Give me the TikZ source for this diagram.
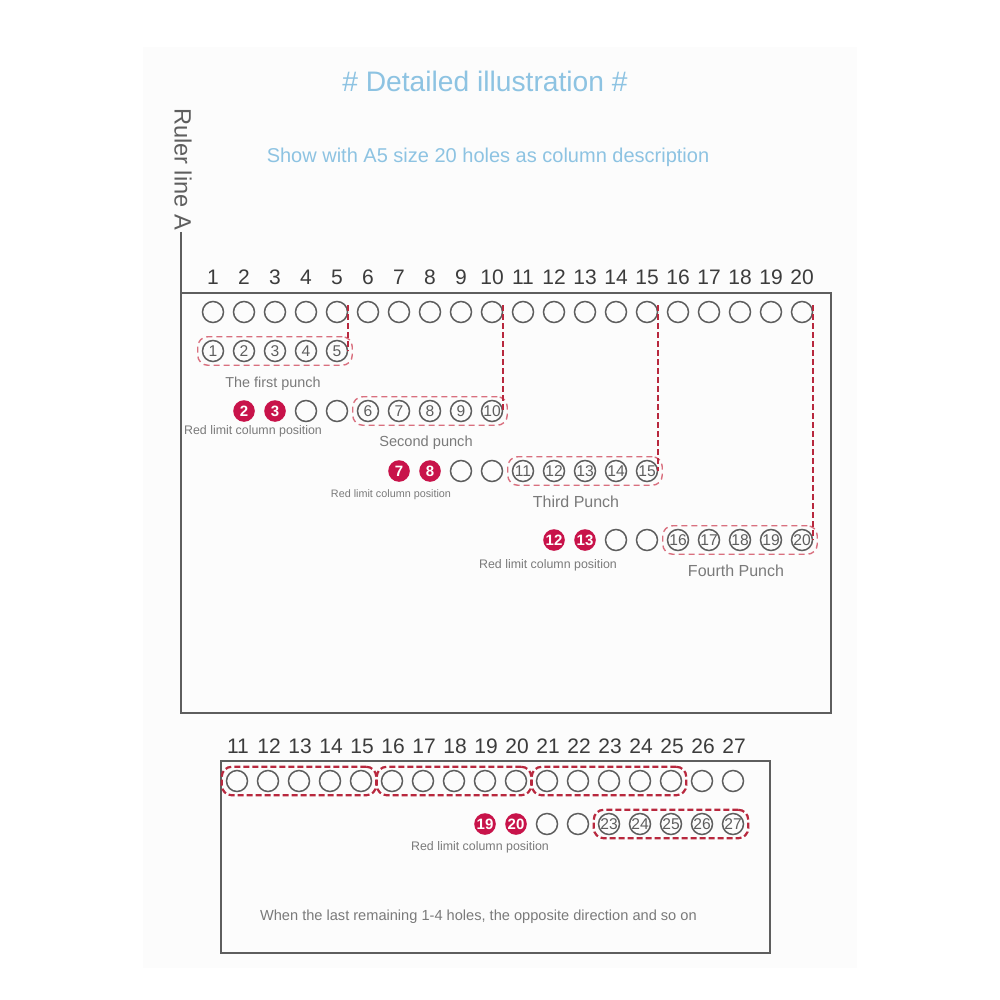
\documentclass[tikz,border=0pt]{standalone}
\usepackage{fontspec}
\setmainfont{Liberation Sans}
\usetikzlibrary{positioning,fit,calc}
\definecolor{sky}{HTML}{8DC3E2}
\definecolor{ink}{HTML}{3C3C3C}
\definecolor{rimc}{HTML}{5E5E5E}
\definecolor{note}{HTML}{7A7A7A}
\definecolor{crim}{HTML}{C8134A}
\definecolor{pinkc}{HTML}{D9707F}
\definecolor{dashc}{HTML}{B8283E}
\definecolor{paper}{HTML}{FCFCFC}
\newcommand{\fsz}[1]{\fontsize{#1}{#1}\selectfont}

\begin{document}
\begin{tikzpicture}[x=0.5pt,y=-0.5pt,
  hole/.style={circle,draw=rimc,line width=0.75pt,minimum size=10.5pt,inner sep=0pt},
  numhole/.style={hole,text=rimc,font=\fsz{7.8}},
  redhole/.style={circle,fill=crim,text=white,minimum size=10.8pt,inner sep=0pt,font=\bfseries\fsz{7.5}},
  num/.style={text=ink,font=\fsz{10.5}},
  grp/.style={draw=pinkc,densely dashed,line width=0.7pt,rounded corners=5pt,inner xsep=2pt,inner ysep=1.5pt},
  grpb/.style={draw=dashc,dash pattern=on 3pt off 1.5pt,line width=1.1pt,rounded corners=5pt,inner xsep=2pt,inner ysep=1.5pt},
  lnk/.style={draw=dashc,dash pattern=on 3pt off 1.5pt,line width=1pt},
  rimline/.style={draw=rimc,line width=1pt},
  lbl/.style={text=note,font=\fsz{6.2}},
  punchcap/.style={text=note,font=\fsz{7.3}}]
\useasboundingbox (0,0) rectangle (1000,1000);
\fill[paper] (143,47) rectangle (857,968);

% headings
\node[text=sky,font=\fsz{14.1}] (title) at (485,81) {\# Detailed illustration \#};
\node[text=sky,font=\fsz{10}] (sub) at (488,157) {Show with A5 size 20 holes as column description};
\node[text=rimc,font=\fsz{11.8},rotate=-90] (ruler) at (183,169) {Ruler line A};

% upper frame
\draw[rimline] (181,232) -- (181,713) -- (831,713) -- (831,293) -- (181,293);

% ruler holes
\foreach \i in {1,...,20}{
  \pgfmathsetmacro\x{213+31*(\i-1)}
  \node[hole] (t\i) at (\x,312) {};
  \node[num] (n\i) at (\x,277) {\i};
}

% first punch
\foreach \i in {1,...,5}
  \node[numhole] (h\i) at ({213+31*(\i-1)},351) {\i};
\node[grp,fit=(h1)(h5)] (g1) {};
\draw[lnk] ($(t5.east)+(0,-7)$) -- (t5.east |- g1.east);

% next punches
\foreach \r/\y in {2/411,3/471,4/540}{
  \pgfmathtruncatemacro\a{5*\r-8}
  \pgfmathtruncatemacro\b{5*\r-4}
  \pgfmathtruncatemacro\c{5*\r}
  \foreach \k in {0,1}{
    \pgfmathtruncatemacro\j{\a+\k}
    \node[redhole] (r\j) at ({213+31*(\j-1)},\y) {\j};
  }
  \foreach \k in {2,3}{
    \pgfmathtruncatemacro\j{\a+\k}
    \node[hole] (e\j) at ({213+31*(\j-1)},\y) {};
  }
  \foreach \j in {\b,...,\c}
    \node[numhole] (h\j) at ({213+31*(\j-1)},\y) {\j};
  \node[grp,fit=(h\b)(h\c)] (g\r) {};
  \draw[lnk] ($(t\c.east)+(0,-7)$) -- (t\c.east |- g\r.east);
}

\node[punchcap,below=2pt of g1,font=\fsz{7.2},xshift=-1pt] (c1) {The first punch};
\node[punchcap,below=1.5pt of g2,xshift=-2pt] (c2) {Second punch};
\node[punchcap,below=1.5pt of g3,font=\fsz{8},xshift=-4.5pt] (c3) {Third Punch};
\node[punchcap,below=1.5pt of g4,font=\fsz{8},xshift=-2pt] (c4) {Fourth Punch};

\node[lbl] (l2) at (253,431) {Red limit column position};
\node[lbl,font=\fsz{5.4}] (l3) at (391,495) {Red limit column position};
\node[lbl] (l4) at (548,565) {Red limit column position};

% lower frame
\draw[rimline] (221,761) rectangle (770,953);
\foreach \i in {11,...,27}{
  \pgfmathsetmacro\x{237+31*(\i-11)}
  \node[hole] (b\i) at (\x,781) {};
  \node[num] (m\i) at (\x+1,746) {\i};
}
\foreach \k/\a/\c in {1/11/15,2/16/20,3/21/25}
  \node[grpb,fit=(b\a)(b\c)] (q\k) {};

\node[redhole] (r19) at (485,824) {19};
\node[redhole] (r20) at (516,824) {20};
\node[hole] (e21) at (547,824) {};
\node[hole] (e22) at (578,824) {};
\foreach \i in {23,...,27}
  \node[numhole] (h\i) at ({609+31*(\i-23)},824) {\i};
\node[grpb,fit=(h23)(h27)] (q4) {};

\node[lbl] (l5) at (480,847) {Red limit column position};
\node[punchcap,anchor=west] (tail) at (253,917) {When the last remaining 1-4 holes, the opposite direction and so on};
\end{tikzpicture}
\end{document}
